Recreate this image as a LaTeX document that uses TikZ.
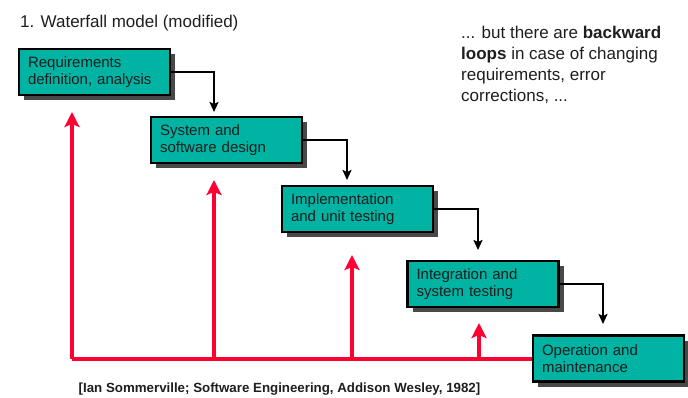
\documentclass[tikz,border=0pt]{standalone}
\usepackage{fontspec}
\setmainfont{Liberation Sans}
\usetikzlibrary{arrows.meta,shadows}

\definecolor{phasefill}{RGB}{0,179,163}
\definecolor{loopred}{RGB}{255,0,51}
\definecolor{shadowgray}{RGB}{72,72,72}
\definecolor{inktext}{RGB}{30,30,30}

\tikzset{
  phase/.style={draw=black, line width=2.4pt, fill=phasefill,
    minimum width=151pt, minimum height=46pt, inner sep=0pt,
    text width=133pt, align=left, font=\fontsize{15}{17.5}\selectfont,
    text=inktext,
    drop shadow={shadow xshift=5pt, shadow yshift=-5pt, fill=shadowgray, opacity=1}},
  flow/.style={draw=black, line width=2pt,
    -{Stealth[length=10pt,width=9pt,inset=2pt]}},
  loop/.style={draw=loopred, line width=4pt,
    -{Stealth[length=15pt,width=15pt,inset=3pt]}},
  loopline/.style={draw=loopred, line width=4pt}
}

\begin{document}
\begin{tikzpicture}[x=1pt,y=-1pt]
  \useasboundingbox (0,0) rectangle (688,397);

  % title and remark (the remark is placed by the baseline of its last line)
  \node[anchor=base west, font=\fontsize{17}{20}\selectfont, text=inktext, inner sep=0pt]
    (title) at (20,27.5) {1. Waterfall model (modified)};
  \node[anchor=base west, align=left, inner sep=0pt, text=inktext,
        font=\fontsize{17}{20.7}\selectfont] (remark) at (461,101)
    {... but there are \textbf{backward}\\
     \textbf{loops} in case of changing\\
     requirements, error\\
     corrections, ...};

  % phases
  \node[phase] (b1) at (94.5,72)    {Requirements\\definition, analysis};
  \node[phase] (b2) at (226.5,140)  {System and\\software design};
  \node[phase] (b3) at (357.5,209)  {Implementation\\and unit testing};
  \node[phase] (b4) at (483,284)    {Integration and\\system testing};
  \node[phase] (b5) at (608.5,358.5){Operation and\\maintenance};

  % forward flow
  \coordinate (f1) at (214,112);
  \coordinate (f2) at (347,180);
  \coordinate (f3) at (478,250);
  \coordinate (f4) at (603,324);
  \draw[flow] (b1.east) -| (f1);
  \draw[flow] (b2.east) -| (f2);
  \draw[flow] (b3.east) -| (f3);
  \draw[flow] (b4.east) -| (f4);

  % backward loops
  \coordinate (l0) at (72,358.5);
  \coordinate (r1) at (72,112);
  \coordinate (r2) at (214,180);
  \coordinate (r3) at (352,255);
  \coordinate (r4) at (479,323);
  \draw[loopline] (b5.west) -- (l0);
  \draw[loop] (l0) -- (r1);
  \draw[loop] (r2 |- l0) -- (r2);
  \draw[loop] (r3 |- l0) -- (r3);
  \draw[loop] (r4 |- l0) -- (r4);

  % source
  \node[anchor=base, font=\bfseries\fontsize{13.3}{15}\selectfont, text=inktext, inner sep=0pt]
    (src) at (279.5,392) {[Ian Sommerville; Software Engineering, Addison Wesley, 1982]};
\end{tikzpicture}
\end{document}
